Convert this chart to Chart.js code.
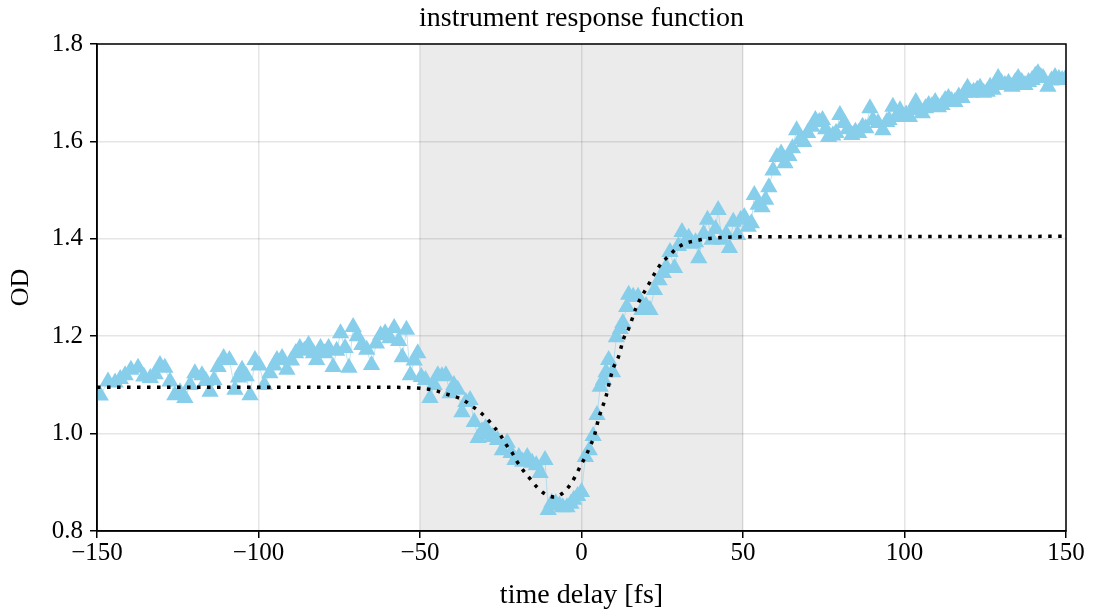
<!DOCTYPE html>
<html>
<head>
<meta charset="utf-8">
<script src="https://cdn.jsdelivr.net/npm/chart.js@4.4.1/dist/chart.umd.min.js"></script>
<style>
html,body{margin:0;padding:0;background:#fff;}
#wrap{width:1095px;height:612px;}
</style>
</head>
<body>
<div id="wrap"><canvas id="c" width="1095" height="612"></canvas></div>
<script>
// ---- data ----
const timeDelay = [
-149,-146.6,-144.4,-142.8,-141.3,-139.5,-137.3,-135.5,-133.5,-132,-130.5,-129,-127.4,-125.9,-124.3,-122.8,-121.2,-119.7,-117.5,-116.3,-115,-113.8,-112.5,-110.8,-109,-107.3,-106.2,-105.1,-103.8,-102.6,-101.1,
-99.8,-98.2,-96.5,-95.2,-94.3,-92.7,-91.2,-89.8,-88.5,-87.2,-85.8,-84.5,-83.0,-82.0,-80.8,-79.5,-78.3,-76.9,-75.8,-74.6,-73.2,-72.0,-70.7,-69.4,-68.0,-66.5,-65.0,-63.5,-62.2,-60.8,-59.3,-58.0,-56.6,-55.5,-54.2,-53.0,-51.8,-50.7,
-49.6,-48.3,-46.9,-45.6,-44.5,-43.2,-42.0,-40.7,-39.5,-38.3,-37.0,-35.8,-34.5,-33.2,-32.0,-30.8,-29.7,-28.5,-27.5,-26.0,-24.5,-23.0,-21.8,-20.6,-19.4,-18.2,-16.8,-15.3,-14.0,-12.8,-11.3,-10.3,-9.2,-8.0,-6.8,-5.8,-4.5,-3.3,-2.4,-1.2,
0.0,1.2,2.4,3.6,4.8,5.8,6.8,7.6,8.4,9.6,10.8,12.0,12.8,14.0,14.6,16.0,17.5,18.7,20.0,21.2,22.6,24.0,25.3,26.2,27.4,28.8,30.0,31.1,32.3,33.2,34.3,35.3,36.3,37.8,39.0,40.4,41.5,42.3,43.5,44.8,45.8,47.0,48.3,
49.3,50.4,51.6,52.6,53.5,54.7,55.9,57.0,58.0,59.3,60.5,61.8,63.0,64.2,65.3,66.6,67.8,68.8,70.0,71.3,72.4,73.6,74.6,75.6,76.5,77.8,78.8,80.0,81.3,82.5,83.7,84.8,85.8,87.0,88.0,89.3,90.2,91.8,93.3,94.5,95.2,96.4,97.6,
98.6,99.5,100.5,101.5,102.5,103.5,104.5,105.5,106.5,107.5,108.5,109.5,110.5,111.6,112.6,113.6,114.6,115.6,116.8,117.8,118.6,119.5,120.5,121.4,122.5,123.4,124.5,125.6,126.5,127.4,128.4,129.0,130.0,131.1,132.2,133.3,134.3,135.2,136.3,137.3,138.4,139.5,140.5,141.3,142.2,142.9,144.4,145.5,146.6,147.8,148.8,149.8
];
const odValues = [
1.078,1.107,1.105,1.112,1.120,1.131,1.135,1.117,1.114,1.122,1.141,1.135,1.107,1.079,1.085,1.073,1.100,1.124,1.120,1.108,1.086,1.110,1.137,1.155,1.151,1.090,1.115,1.131,1.118,1.079,1.151,
1.140,1.100,1.124,1.140,1.151,1.155,1.131,1.150,1.165,1.176,1.170,1.182,1.165,1.151,1.176,1.165,1.176,1.137,1.170,1.206,1.176,1.135,1.219,1.200,1.182,1.172,1.141,1.185,1.202,1.206,1.196,1.217,1.190,1.157,1.213,1.120,1.150,1.165,
1.116,1.110,1.073,1.100,1.120,1.118,1.120,1.083,1.100,1.090,1.044,1.065,1.069,1.024,0.991,1.005,1.011,0.998,0.993,0.987,0.966,0.981,0.960,0.946,0.952,0.942,0.952,0.940,0.935,0.919,0.946,0.843,0.858,0.857,0.853,0.849,0.849,0.856,0.864,0.872,
0.880,0.952,0.966,0.995,1.038,1.096,1.110,1.126,1.151,1.126,1.198,1.215,1.227,1.260,1.285,1.281,1.281,1.254,1.262,1.254,1.295,1.315,1.330,1.342,1.373,1.340,1.385,1.414,1.395,1.402,1.390,1.393,1.360,1.410,1.439,1.398,1.420,1.459,1.398,1.410,1.381,1.435,1.408,
1.439,1.445,1.425,1.432,1.490,1.470,1.465,1.480,1.506,1.540,1.568,1.575,1.555,1.570,1.586,1.623,1.605,1.599,1.617,1.630,1.644,1.640,1.644,1.625,1.609,1.612,1.617,1.654,1.638,1.625,1.613,1.620,1.617,1.630,1.627,1.668,1.644,1.638,1.623,1.640,1.644,1.671,1.650,
1.664,1.650,1.655,1.650,1.665,1.681,1.665,1.658,1.668,1.675,1.672,1.681,1.670,1.675,1.685,1.689,1.683,1.681,1.692,1.689,1.700,1.710,1.700,1.702,1.706,1.710,1.700,1.702,1.712,1.706,1.722,1.730,1.720,1.716,1.720,1.712,1.722,1.730,1.722,1.716,1.722,1.726,1.735,1.740,1.732,1.730,1.712,1.725,1.732,1.728,1.726,1.728
];
const fitTime = [-150,-60,-50,-45,-42.8,-39.7,-36.6,-34,-31.4,-29.2,-27,-25,-23.4,-21.4,-19.9,-18,-15.9,-13.9,-11.5,-8.5,-5.6,-3.4,-1.8,-0.3,1.3,2.6,3.9,5.4,6.4,7.5,8.8,9.8,11.4,13.1,14.7,16.8,18.3,20,21.5,23.1,25,27.1,29.4,32.3,35.4,38.7,44.9,50,150];
const fitOD = [1.095,1.095,1.093,1.088,1.083,1.077,1.069,1.057,1.044,1.030,1.013,0.996,0.978,0.960,0.942,0.924,0.907,0.891,0.877,0.870,0.879,0.896,0.914,0.934,0.954,0.973,0.994,1.033,1.053,1.074,1.110,1.134,1.157,1.196,1.217,1.257,1.278,1.297,1.315,1.334,1.352,1.365,1.380,1.391,1.396,1.400,1.403,1.404,1.405];
const xTickValues = [-150,-100,-50,0,50,100,150];
const xTickLabels = ['\u2212150','\u2212100','\u221250','0','50','100','150'];
const yTickLabels = ['0.8','1.0','1.2','1.4','1.6','1.8'];
const shadeRange = [-50, 50];
const titleText = 'instrument response function';
const xTitle = 'time delay [fs]';
const yTitle = 'OD';

// ---- build ----
const scatterPts = timeDelay.map((t,i)=>({x:t,y:odValues[i]}));
const fitPts = fitTime.map((t,i)=>({x:t,y:fitOD[i]}));

const FONT = 'Liberation Serif';
Chart.defaults.font.family = FONT;
Chart.defaults.color = '#000';

const framePlugin = {
  id:'frame',
  beforeDraw(chart){
    const {ctx, chartArea:a, scales:{x}} = chart;
    ctx.save();
    ctx.fillStyle='#fff';
    ctx.fillRect(0,0,chart.width,chart.height);
    ctx.fillStyle='#ebebeb';
    const x0=x.getPixelForValue(shadeRange[0]), x1=x.getPixelForValue(shadeRange[1]);
    ctx.fillRect(x0,a.top,x1-x0,a.bottom-a.top);
    ctx.restore();
  },
  afterDraw(chart){
    const {ctx, chartArea:a} = chart;
    ctx.save();
    ctx.strokeStyle='#000';
    ctx.lineWidth=1.5;
    ctx.strokeRect(a.left,a.top,a.right-a.left,a.bottom-a.top);
    ctx.fillStyle='#000';
    ctx.font='28px "'+FONT+'"';
    ctx.textAlign='center';
    ctx.textBaseline='middle';
    ctx.fillText(titleText,(a.left+a.right)/2,19);
    ctx.restore();
  }
};

new Chart(document.getElementById('c'), {
  type:'scatter',
  data:{
    datasets:[
      {
        label:'fit',
        data:fitPts,
        showLine:true,
        borderColor:'#000',
        borderWidth:3.5,
        borderDash:[3.5,6.5],
        pointRadius:0,
        cubicInterpolationMode:'monotone',
        fill:false
      },
      {
        label:'data',
        data:scatterPts,
        showLine:true,
        borderColor:'rgba(135,206,235,0.55)',
        borderWidth:1,
        pointStyle:'triangle',
        pointRadius:10,
        pointBackgroundColor:'#87CEEB',
        pointBorderColor:'#87CEEB',
        pointBorderWidth:0,
        fill:false
      }
    ]
  },
  options:{
    responsive:false,
    animation:false,
    devicePixelRatio:1,
    layout:{padding:{left:0,right:29,top:44,bottom:0}},
    plugins:{
      legend:{display:false},
      tooltip:{enabled:false},
      title:{display:false}
    },
    scales:{
      x:{
        type:'linear',min:-150,max:150,
        afterFit(s){s.height=81;},
        afterBuildTicks(s){s.ticks=xTickValues.map(v=>({value:v}));},
        ticks:{callback:(v)=>{const i=xTickValues.indexOf(v);return i>=0?xTickLabels[i]:'';},font:{size:25},color:'#000',padding:0,maxRotation:0},
        grid:{color:'rgba(0,0,0,0.1)',lineWidth:1.5,tickColor:'#000',tickLength:7,tickWidth:1.5},
        border:{display:true,color:'#000',width:1.5},
        title:{display:true,text:xTitle,color:'#000',font:{size:28},padding:{top:0,bottom:0}}
      },
      y:{
        type:'linear',min:0.8,max:1.8,
        afterFit(s){s.width=97;},
        afterBuildTicks(s){s.ticks=yTickLabels.map(l=>({value:parseFloat(l)}));},
        ticks:{callback:(v)=>{const i=yTickLabels.findIndex(l=>Math.abs(parseFloat(l)-v)<1e-6);return i>=0?yTickLabels[i]:'';},font:{size:25},color:'#000',padding:7},
        grid:{color:'rgba(0,0,0,0.1)',lineWidth:1.5,tickColor:'#000',tickLength:7,tickWidth:1.5},
        border:{display:true,color:'#000',width:1.5},
        title:{display:true,text:yTitle,color:'#000',font:{size:26},padding:{top:6,bottom:0}}
      }
    }
  },
  plugins:[framePlugin]
});
</script>
</body>
</html>
